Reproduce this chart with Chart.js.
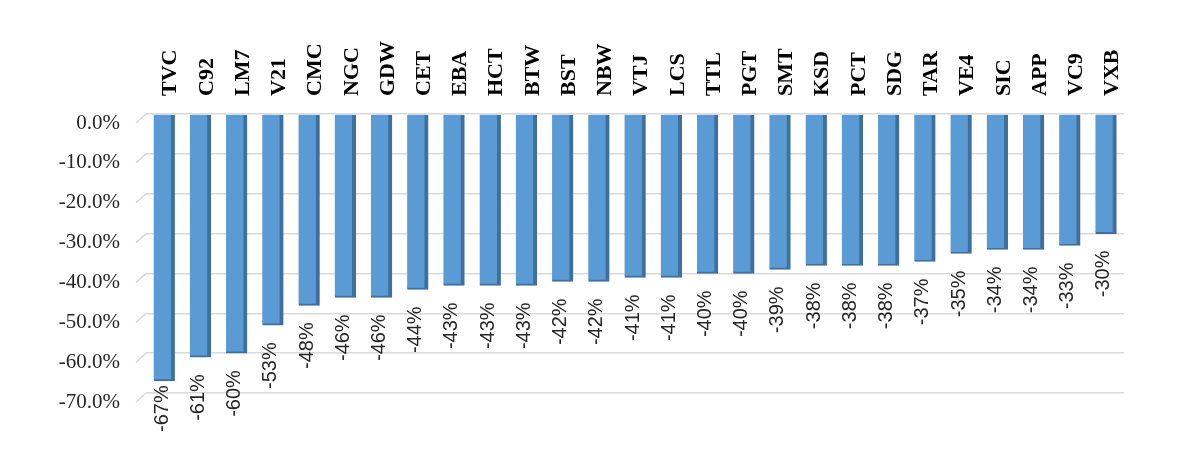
<!DOCTYPE html>
<html>
<head>
<meta charset="utf-8">
<script src="https://cdn.jsdelivr.net/npm/chart.js@4.4.1/dist/chart.umd.min.js"></script>
<style>
  html, body { margin: 0; padding: 0; background: #ffffff; }
  #wrap { width: 1200px; height: 450px; position: relative; }
</style>
</head>
<body>
<div id="wrap"><canvas id="c" width="1200" height="450"></canvas></div>
<script>
const categories = ['TVC','C92','LM7','V21','CMC','NGC','GDW','CET','EBA','HCT','BTW','BST','NBW','VTJ','LCS','TTL','PGT','SMT','KSD','PCT','SDG','TAR','VE4','SIC','APP','VC9','VXB'];
const changeValues = [-67,-61,-60,-53,-48,-46,-46,-44,-43,-43,-43,-42,-42,-41,-41,-40,-40,-39,-38,-38,-38,-37,-35,-34,-34,-33,-30];
const yTickValues = [0,-10,-20,-30,-40,-50,-60,-70];

const SERIF = '"Liberation Serif", "Times New Roman", serif';
const SANS = '"Liberation Sans", Arial, sans-serif';

const LEFT = 146, TOP = 114, RIGHT = 1124, BOTTOM = 393;

const slantPlugin = {
  id: 'slant',
  beforeDatasetsDraw(chart) {
    const ctx = chart.ctx, y = chart.scales.y, a = chart.chartArea;
    ctx.save();
    ctx.strokeStyle = '#d9d9d9';
    ctx.lineWidth = 1.5;
    yTickValues.forEach(v => {
      const py = y.getPixelForValue(v);
      ctx.beginPath();
      ctx.moveTo(a.left, py);
      ctx.lineTo(a.left - 10, py + 9);
      ctx.stroke();
    });
    ctx.restore();
  }
};

const labelPlugin = {
  id: 'valLabels',
  afterDatasetsDraw(chart) {
    const ctx = chart.ctx;
    const meta = chart.getDatasetMeta(0);
    ctx.save();
    ctx.font = '20px ' + SANS;
    ctx.fillStyle = '#262626';
    ctx.textBaseline = 'middle';
    ctx.textAlign = 'right';
    meta.data.forEach((bar, i) => {
      const txt = changeValues[i] + '%';
      const w = ctx.measureText(txt).width;
      let top = bar.y + 17;
      if (top + w > 432) top = 432 - w;
      ctx.save();
      ctx.translate(bar.x - 2, top);
      ctx.rotate(-Math.PI / 2);
      ctx.fillText(txt, 0, 0);
      ctx.restore();
    });
    ctx.restore();
  }
};

new Chart(document.getElementById('c'), {
  type: 'bar',
  data: {
    labels: categories,
    datasets: [{
      data: changeValues,
      backgroundColor: '#5b9bd5',
      borderColor: '#3f6f9c',
      borderWidth: { top: 0, left: 0, right: 4, bottom: 2 },
      borderSkipped: false,
      barThickness: 21
    }]
  },
  options: {
    responsive: false,
    animation: false,
    layout: { padding: { left: 0, top: 0, right: 1200 - RIGHT, bottom: 450 - BOTTOM } },
    plugins: { legend: { display: false }, tooltip: { enabled: false } },
    scales: {
      x: {
        position: 'top',
        grid: { display: false },
        border: { display: false },
        ticks: {
          minRotation: 90, maxRotation: 90, autoSkip: false,
          padding: 10,
          labelOffset: 33,
          color: '#000000',
          font: { family: SERIF, size: 22, weight: 'bold' }
        },
        afterFit(s) { s.height = TOP; }
      },
      y: {
        min: -70, max: 0,
        border: { display: false },
        grid: { color: '#d9d9d9', lineWidth: 1.5, drawTicks: false },
        afterBuildTicks(s) { s.ticks = yTickValues.map(v => ({ value: v })); },
        ticks: {
          padding: 26,
          labelOffset: 9,
          color: '#262626',
          font: { family: SERIF, size: 21 },
          callback: v => v.toFixed(1) + '%'
        },
        afterFit(s) { s.width = LEFT; }
      }
    }
  },
  plugins: [slantPlugin, labelPlugin]
});
</script>
</body>
</html>
